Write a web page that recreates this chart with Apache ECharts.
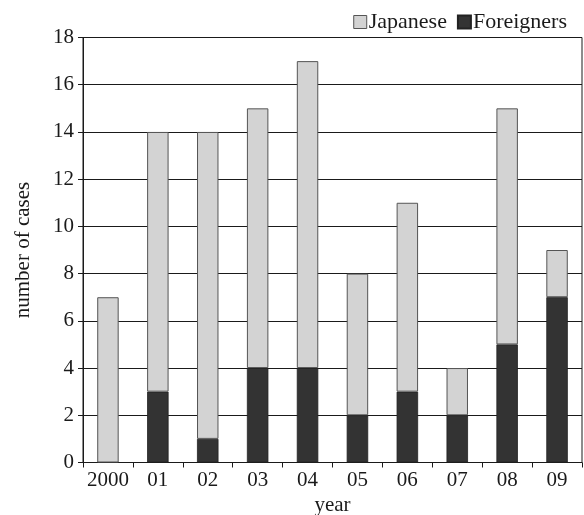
<!DOCTYPE html>
<html><head><meta charset="utf-8">
<script src="https://cdn.jsdelivr.net/npm/echarts@6/dist/echarts.min.js"></script>
<style>html,body{margin:0;padding:0;background:#fff}#c{width:584px;height:515px}</style>
</head><body><div id="c"></div>
<script>
var categories = ['2000','01','02','03','04','05','06','07','08','09'];
var foreigners = [0,3,1,4,4,2,3,2,5,7];
var japanese = [7,11,13,11,13,6,8,2,10,2];
var font = 'Liberation Serif';
var ink = '#1a1a1a';
var chart = echarts.init(document.getElementById('c'));
chart.setOption({
  animation:false,
  textStyle:{fontFamily:font},
  legend:{right:12,top:6,itemGap:10,itemWidth:13,itemHeight:13,icon:'rect',
    textStyle:{fontFamily:font,fontSize:22,color:ink,padding:[0,0,0,-3]},
    data:[{name:'Japanese',itemStyle:{color:'#d3d3d3',borderColor:'#555',borderWidth:1}},
          {name:'Foreigners',itemStyle:{color:'#333333'}}]},
  grid:{left:83,right:2,top:37.5,bottom:52.5,containLabel:false,outerBoundsMode:'none',
    show:true,borderColor:ink,borderWidth:1,backgroundColor:'transparent'},
  xAxis:{type:'category',data:categories,
    axisLine:{lineStyle:{color:ink,width:1}},
    axisTick:{show:true,interval:0,length:5,lineStyle:{color:ink}},
    axisLabel:{fontFamily:font,fontSize:21,color:ink,margin:7,interval:0,hideOverlap:false},
    name:'year',nameLocation:'middle',nameGap:27,
    nameTextStyle:{fontFamily:font,fontSize:21,color:ink}},
  yAxis:{type:'value',min:0,max:18,interval:2,
    axisLine:{show:true,lineStyle:{color:ink}},
    axisTick:{show:true,length:5,lineStyle:{color:ink}},
    splitLine:{lineStyle:{color:ink,width:1}},
    axisLabel:{fontFamily:font,fontSize:21,color:ink,margin:9},
    name:'number of cases',nameLocation:'middle',nameGap:49,
    nameTextStyle:{fontFamily:font,fontSize:21,color:ink}},
  series:[
    {name:'Foreigners',type:'bar',stack:'a',data:foreigners,barWidth:'43%',
      itemStyle:{color:'#333333',borderColor:'#222',borderWidth:0.8}},
    {name:'Japanese',type:'bar',stack:'a',data:japanese,barWidth:'43%',
      itemStyle:{color:'#d3d3d3',borderColor:'#555',borderWidth:1}}
  ]
});
</script></body></html>
